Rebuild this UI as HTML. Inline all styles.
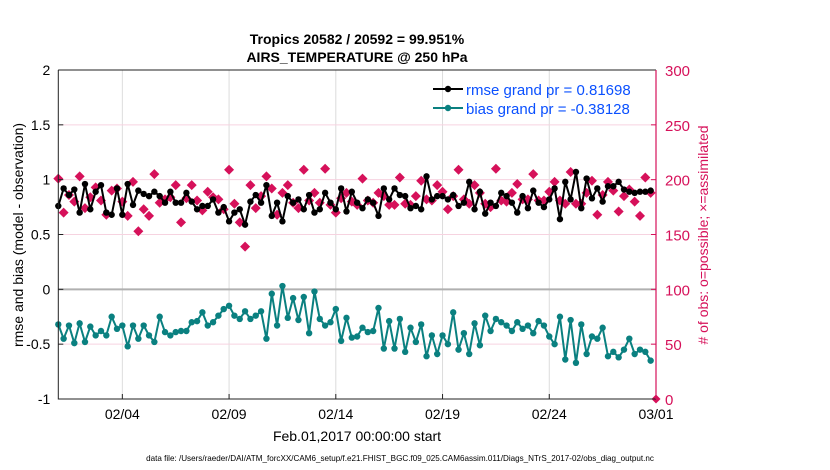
<!DOCTYPE html>
<html><head><meta charset="utf-8"><style>
body{margin:0;background:#fff;}
svg{display:block;font-family:"Liberation Sans",sans-serif;}
</style></head><body>
<svg id="chart" width="830" height="470" viewBox="0 0 830 470">
<rect width="830" height="470" fill="#fff"/>
<text x="357" y="44" text-anchor="middle" font-size="14" font-weight="bold">Tropics 20582 / 20592 = 99.951%</text>
<text x="357" y="62" text-anchor="middle" font-size="14" font-weight="bold">AIRS_TEMPERATURE @ 250 hPa</text>
<g id="grid"></g>
<g id="marks"></g>
<g id="axes"></g>
<text transform="translate(23,235) rotate(-90)" text-anchor="middle" font-size="14">rmse and bias (model - observation)</text>
<text transform="translate(708,235) rotate(-90)" text-anchor="middle" font-size="14" fill="#d6115a"># of obs: o=possible; ×=assimilated</text>
<text x="357" y="441" text-anchor="middle" font-size="14">Feb.01,2017 00:00:00 start</text>
<text x="400" y="461" text-anchor="middle" font-size="8.1">data file: /Users/raeder/DAI/ATM_forcXX/CAM6_setup/f.e21.FHIST_BGC.f09_025.CAM6assim.011/Diags_NTrS_2017-02/obs_diag_output.nc</text>
<g>
<line x1="433" y1="89" x2="463" y2="89" stroke="#000" stroke-width="2"/>
<circle cx="448" cy="89" r="3.2" fill="#000"/>
<text x="466" y="95" font-size="15" fill="#0a50ff">rmse grand pr = 0.81698</text>
<line x1="433" y1="108" x2="463" y2="108" stroke="#0a8080" stroke-width="2"/>
<circle cx="448" cy="108" r="3.2" fill="#0a8080"/>
<text x="466" y="114" font-size="15" fill="#0a50ff">bias grand pr = -0.38128</text>
</g>
</svg>
<script>
const leftTicks=[2,1.5,1,0.5,0,-0.5,-1];
const rightTicks=[0,50,100,150,200,250,300];
const dateTicks=[3,8,13,18,23,28];
const dateLabels=["02/04","02/09","02/14","02/19","02/24","03/01"];
const rmse=[0.76,0.92,0.86,0.91,0.70,0.96,0.73,0.89,0.95,0.70,0.68,0.92,0.68,0.96,0.77,0.90,0.87,0.85,0.89,0.85,0.79,0.89,0.79,0.79,0.88,0.80,0.73,0.76,0.76,0.82,0.70,0.75,0.62,0.70,0.73,0.59,0.80,0.86,
0.79,0.95,0.67,0.79,0.62,0.85,0.79,0.82,0.73,0.86,0.70,0.73,0.88,0.79,0.73,0.92,0.71,0.89,0.79,0.74,0.82,0.79,0.67,0.92,0.82,0.92,0.86,0.85,0.74,0.76,0.73,1.03,0.82,0.85,0.85,0.82,0.86,0.76,
0.79,0.98,0.73,0.89,0.69,0.79,0.76,0.88,0.85,0.79,0.70,0.85,0.74,0.90,0.79,0.75,0.82,0.92,0.64,0.98,0.82,1.07,0.74,1.01,0.83,0.92,0.80,0.94,0.94,0.98,0.91,0.89,0.88,0.89,0.89,0.90];
const bias=[-0.32,-0.45,-0.33,-0.49,-0.31,-0.48,-0.34,-0.42,-0.38,-0.42,-0.25,-0.36,-0.33,-0.52,-0.33,-0.45,-0.33,-0.42,-0.48,-0.25,-0.39,-0.42,-0.39,-0.38,-0.38,-0.30,-0.29,-0.21,-0.33,-0.30,-0.24,-0.18,-0.15,-0.24,-0.27,-0.20,-0.27,-0.24,-0.20,
-0.45,-0.04,-0.33,0.03,-0.26,-0.08,-0.28,-0.07,-0.40,-0.02,-0.27,-0.33,-0.30,-0.18,-0.47,-0.26,-0.44,-0.43,-0.35,-0.39,-0.38,-0.17,-0.54,-0.29,-0.54,-0.27,-0.57,-0.35,-0.48,-0.32,-0.61,-0.42,-0.59,-0.42,-0.50,-0.21,-0.55,
-0.40,-0.59,-0.31,-0.51,-0.24,-0.38,-0.27,-0.30,-0.33,-0.38,-0.30,-0.36,-0.33,-0.40,-0.29,-0.33,-0.43,-0.50,-0.25,-0.64,-0.28,-0.67,-0.32,-0.59,-0.43,-0.45,-0.35,-0.61,-0.57,-0.62,-0.55,-0.45,-0.59,-0.55,-0.57,-0.65];
const obsCount=[201,170,186,180,203,174,184,193,181,168,190,192,180,167,198,153,173,167,205,179,182,184,195,161,183,195,181,172,189,184,182,173,209,178,161,139,195,174,
185,203,192,168,188,195,179,174,209,181,188,179,210,177,170,183,188,180,177,201,181,179,188,185,177,177,202,178,177,185,199,182,181,195,189,173,185,209,
182,178,195,188,178,175,210,181,180,188,196,182,182,205,181,181,189,198,181,178,207,178,178,188,199,168,186,198,190,171,185,191,180,167,202,188];
const stepDays=0.25;
const NS='http://www.w3.org/2000/svg';
const X0=58.3,X1=656,Y0=70,Y1=399;
const xs=d=>X0+(X1-X0)*d/28;
const yl=v=>Y1-(Y1-Y0)*(v+1)/3;
const yr=c=>Y1-(Y1-Y0)*c/300;
function mk(tag,attrs,parent){const e=document.createElementNS(NS,tag);for(const k in attrs)e.setAttribute(k,attrs[k]);parent.appendChild(e);return e;}
const grid=document.getElementById('grid'),marks=document.getElementById('marks'),axes=document.getElementById('axes');
mk('rect',{x:X0,y:Y0,width:X1-X0,height:Y1-Y0,fill:'#fff'},grid);
dateTicks.forEach((d,i)=>{
 const g=mk('line',{x1:xs(d),x2:xs(d),y1:Y0,y2:Y1,stroke:'#dcdcdc','stroke-width':1},grid);
 
 
 const t=mk('line',{x1:xs(d),x2:xs(d),y1:Y1,y2:Y1-5,stroke:'#222','stroke-width':1},axes);
 
 
 const tx=mk('text',{x:xs(d),y:Y1+20,'text-anchor':'middle','font-size':14},axes);
 tx.textContent=dateLabels[i];
 
 
});
leftTicks.forEach(v=>{
 if(v!==0&&v!==2&&v!==-1){
  const g=mk('line',{x1:X0,x2:X1,y1:yl(v),y2:yl(v),stroke:'#f6d3e0','stroke-width':1},grid);
  
  
 }
 const t=mk('line',{x1:X0,x2:X0+5,y1:yl(v),y2:yl(v),stroke:'#222'},axes);
 
 
 const tx=mk('text',{x:X0-8,y:yl(v)+5,'text-anchor':'end','font-size':14},axes);
 tx.textContent=String(v);
 
 
});
const zl=mk('line',{x1:X0,x2:X1,y1:yl(0),y2:yl(0),stroke:'#b0b0b0','stroke-width':2},grid);


rightTicks.forEach(c=>{
 const t=mk('line',{x1:X1,x2:X1-5,y1:yr(c),y2:yr(c),stroke:'#d6115a'},axes);
 
 
 const tx=mk('text',{x:X1+9,y:yr(c)+6,'font-size':15,fill:'#d6115a'},axes);
 tx.textContent=String(c);
 
 
});
const ax=mk('path',{d:`M${X0},${Y0}V${Y1}H${X1}M${X0},${Y0}H${X1}`,fill:'none',stroke:'#222','stroke-width':1},axes);


const ra=mk('line',{x1:X1,x2:X1,y1:Y0,y2:Y1,stroke:'#d6115a','stroke-width':1.2},axes);


function diamond(x,y,s){return `M${x},${y-s}L${x+s},${y}L${x},${y+s}L${x-s},${y}Z`;}
obsCount.forEach((c,i)=>{
 const p=mk('path',{d:diamond(xs(i*stepDays),yr(c),5),fill:'#d6115a'},marks);
 
 
});
const end=mk('path',{d:diamond(X1,yr(0),4.5),fill:'#d6115a'},marks);


function series(arr,color,name){
 const pts=arr.map((v,i)=>`${xs(i*stepDays).toFixed(1)},${yl(v).toFixed(1)}`).join(' ');
 const pl=mk('polyline',{points:pts,fill:'none',stroke:color,'stroke-width':2},marks);
 
 
 arr.forEach((v,i)=>{
  const c=mk('circle',{cx:xs(i*stepDays),cy:yl(v),r:3.2,fill:color},marks);
  
  
 });
}
series(rmse,'#000','rmse');
series(bias,'#0a8080','bias');
</script>
</body></html>
